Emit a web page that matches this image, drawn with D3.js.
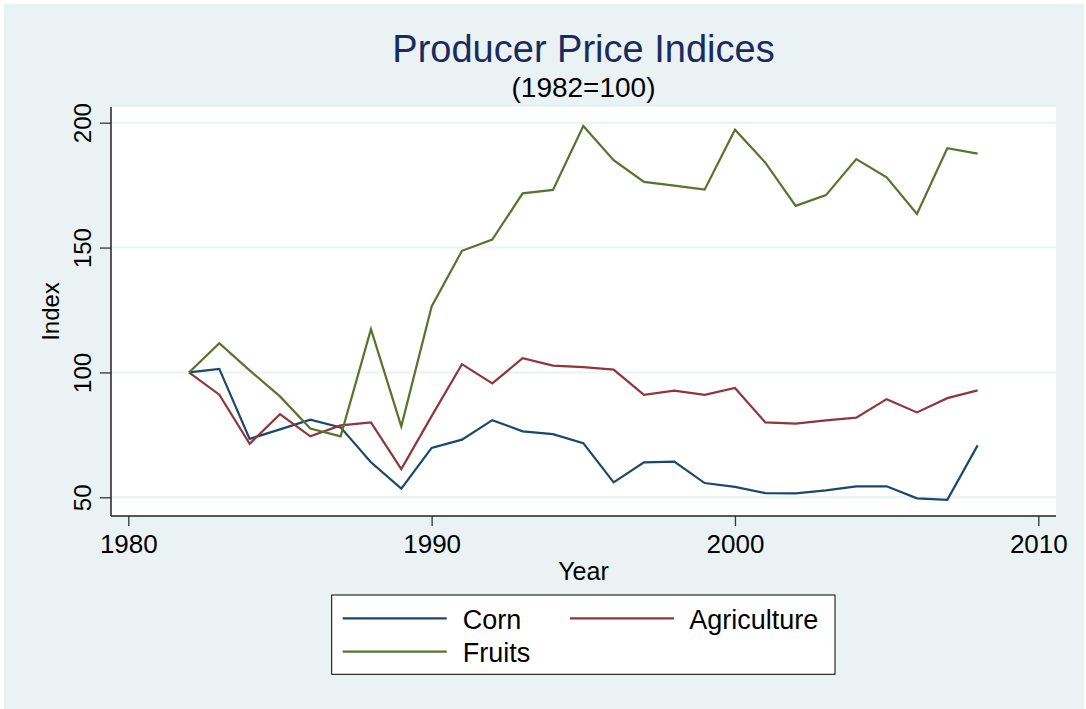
<!DOCTYPE html>
<html>
<head>
<meta charset="utf-8">
<script src="https://cdnjs.cloudflare.com/ajax/libs/d3/7.8.5/d3.min.js"></script>
<style>
  body { margin: 0; background: #fff; }
  text { font-family: "Liberation Sans", Arial, sans-serif; }
</style>
</head>
<body>
<div id="chart"></div>
<script>
var years = [1982, 1983, 1984, 1985, 1986, 1987, 1988, 1989, 1990, 1991, 1992, 1993, 1994,
    1995, 1996, 1997, 1998, 1999, 2000, 2001, 2002, 2003, 2004, 2005, 2006, 2007, 2008];
var corn = [100, 101.4, 73.4, 77.2, 81.1, 78, 64, 53.5, 69.8, 73.1, 80.9, 76.4, 75.3,
    71.7, 56, 64, 64.3, 55.7, 54.2, 51.7, 51.6, 52.8, 54.4, 54.4, 49.6, 49, 70.8];
var agriculture = [100, 91.1, 71.4, 83.3, 74.4, 78.8, 80, 61.3, 82.5, 103.3, 95.6, 105.7, 102.7,
    102.1, 101.1, 91, 92.7, 91, 93.8, 80, 79.5, 80.8, 81.9, 89.3, 84, 89.7, 92.8];
var fruits = [100, 111.7, 100.8, 90.4, 77.5, 74.4, 117.3, 78.4, 126.4, 148.7, 153.2, 171.7, 173.1,
    198.7, 185, 176.3, 174.8, 173.2, 197.2, 184, 166.7, 171, 185.4, 178.1, 163.5, 189.8, 187.6];
var seriesNames = ['Corn', 'Agriculture', 'Fruits'];
var xTicks = [1980, 1990, 2000, 2010];
var yTicks = [50, 100, 150, 200];

var width = 1086, height = 709;
var colors = ['#1a476f', '#90353b', '#55752f'];
var bg = '#eaf2f3';

// plot region (white box) and axis ranges
var plot = { left: 111, right: 1056, top: 107, bottom: 516 };

var x = d3.scaleLinear().domain([1980, 2010]).range([128.3, 1038.3]);
var y = d3.scaleLinear().domain([50, 200]).range([497.3, 122.7]);

var svg = d3.select('#chart').append('svg')
    .attr('width', width)
    .attr('height', height);

svg.append('rect')
    .attr('x', 4).attr('y', 4)
    .attr('width', 1080).attr('height', 705)
    .attr('fill', bg);

svg.append('rect')
    .attr('x', plot.left).attr('y', plot.top)
    .attr('width', plot.right - plot.left)
    .attr('height', plot.bottom - plot.top)
    .attr('fill', '#fff');

// gridlines
svg.append('g')
    .selectAll('line')
    .data(yTicks)
    .enter()
    .append('line')
    .attr('x1', plot.left).attr('x2', plot.right)
    .attr('y1', d => y(d)).attr('y2', d => y(d))
    .attr('stroke', bg)
    .attr('stroke-width', 2);

// y axis
var yAxis = svg.append('g')
    .attr('transform', 'translate(' + plot.left + ',0)')
    .call(d3.axisLeft(y).tickValues(yTicks).tickSize(11).tickPadding(20).tickFormat(d3.format('d')));
yAxis.select('.domain').remove();
yAxis.selectAll('.tick line').attr('stroke', '#333').attr('stroke-width', 1.3);
yAxis.selectAll('.tick text')
    .attr('x', null).attr('dy', null)
    .attr('transform', 'translate(-20.3,0) rotate(-90)')
    .attr('text-anchor', 'middle')
    .style('font-size', '24px')
    .attr('fill', '#000');

// x axis
var xAxis = svg.append('g')
    .attr('transform', 'translate(0,' + plot.bottom + ')')
    .call(d3.axisBottom(x).tickValues(xTicks).tickSize(10).tickFormat(d3.format('d')));
xAxis.select('.domain').remove();
xAxis.selectAll('.tick line').attr('stroke', '#333').attr('stroke-width', 1.3);
xAxis.selectAll('.tick text')
    .attr('y', 37).attr('dy', null)
    .style('font-size', '26px')
    .attr('fill', '#000');

// axis lines
svg.append('line')
    .attr('x1', plot.left).attr('x2', plot.left)
    .attr('y1', plot.top).attr('y2', plot.bottom)
    .attr('stroke', '#222').attr('stroke-width', 1.5);
svg.append('line')
    .attr('x1', plot.left).attr('x2', plot.right)
    .attr('y1', plot.bottom).attr('y2', plot.bottom)
    .attr('stroke', '#222').attr('stroke-width', 1.5);

// series
var series = [corn, agriculture, fruits];
var line = d3.line()
    .x((d, i) => x(years[i]))
    .y(d => y(d));

svg.append('g')
    .selectAll('path')
    .data(series)
    .enter()
    .append('path')
    .attr('d', line)
    .attr('fill', 'none')
    .attr('stroke', (d, i) => colors[i])
    .attr('stroke-width', 2.2)
    .attr('stroke-linejoin', 'miter');

// titles
var cx = (plot.left + plot.right) / 2;
svg.append('text')
    .attr('x', cx).attr('y', 62)
    .attr('text-anchor', 'middle')
    .style('font-size', '38px')
    .attr('fill', '#1c2b5e')
    .text('Producer Price Indices');
svg.append('text')
    .attr('x', cx).attr('y', 97)
    .attr('text-anchor', 'middle')
    .style('font-size', '28px')
    .attr('fill', '#000')
    .text('(1982=100)');
svg.append('text')
    .attr('x', cx).attr('y', 580)
    .attr('text-anchor', 'middle')
    .style('font-size', '25px')
    .attr('fill', '#000')
    .text('Year');
svg.append('text')
    .attr('transform', 'translate(59.3,' + ((plot.top + plot.bottom) / 2) + ') rotate(-90)')
    .attr('text-anchor', 'middle')
    .style('font-size', '24px')
    .attr('fill', '#000')
    .text('Index');

// legend
var legend = svg.append('g');
legend.append('rect')
    .attr('x', 331.7).attr('y', 595)
    .attr('width', 503.3).attr('height', 79.3)
    .attr('fill', '#fff')
    .attr('stroke', '#000')
    .attr('stroke-width', 1);

var legendPos = [[342.7, 618.3], [570, 618.3], [342.7, 651.7]];
var items = legend.selectAll('g.item')
    .data(seriesNames)
    .enter()
    .append('g')
    .attr('class', 'item')
    .attr('transform', (d, i) => 'translate(' + legendPos[i] + ')');
items.append('line')
    .attr('x1', 0).attr('x2', 104)
    .attr('y1', 0).attr('y2', 0)
    .attr('stroke', (d, i) => colors[i])
    .attr('stroke-width', 2.2);
items.append('text')
    .attr('x', (d, i) => i == 1 ? 119.3 : 120)
    .attr('y', 10.5)
    .style('font-size', '27px')
    .attr('fill', '#000')
    .text(d => d);
</script>
</body>
</html>
